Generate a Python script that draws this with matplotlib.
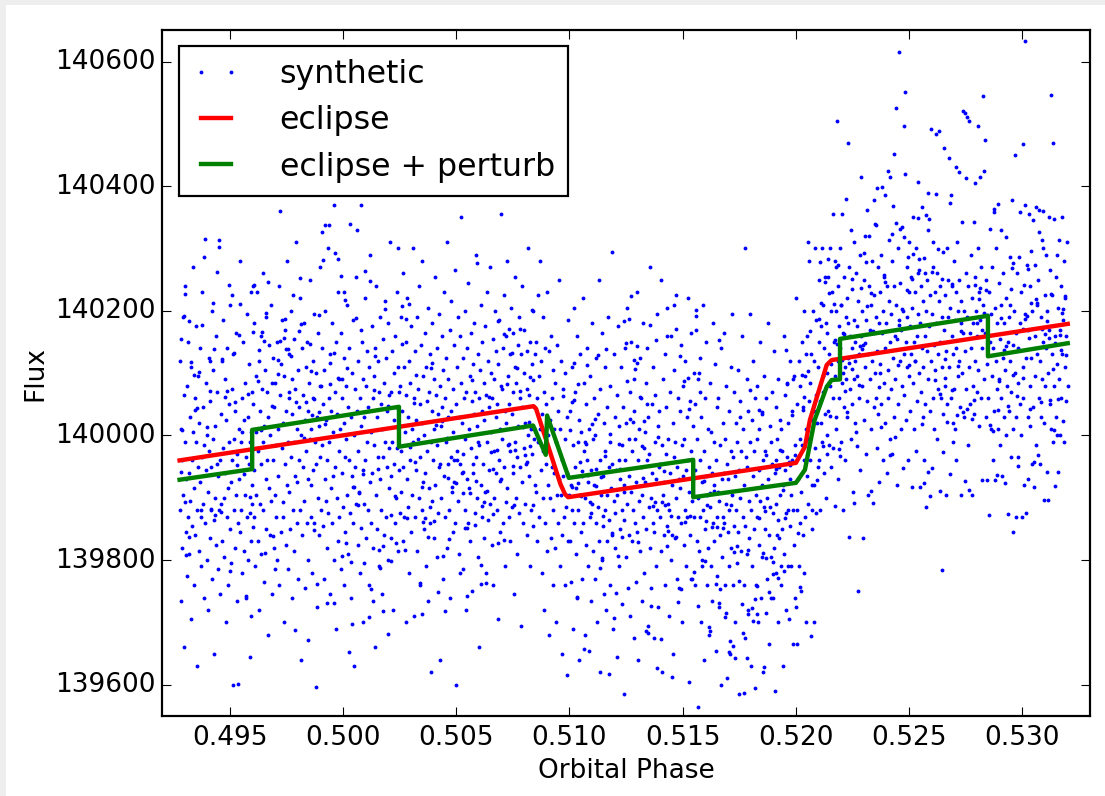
"""
Synthetic eclipse light curve with the eclipse model and the perturbed
eclipse model drawn over it. Saves out.png (1105 x 796 px).
"""

import numpy as np
import matplotlib
matplotlib.use("Agg")
import matplotlib.pyplot as plt
from matplotlib.patches import Rectangle

# ---------------------------------------------------------------------------
# Data
# phases are stored as phase x 1e5, fluxes as they are
# ---------------------------------------------------------------------------

# pre-ingress, 0.4928 - 0.4960
PHASE_1 = [
    49276, 49278, 49281, 49282, 49285, 49288, 49289, 49292, 49294, 49297,
    49299, 49300, 49303, 49306, 49307, 49310, 49312, 49315, 49316, 49319,
    49321, 49323, 49325, 49328, 49330, 49331, 49334, 49337, 49338, 49341,
    49343, 49345, 49348, 49349, 49352, 49354, 49357, 49359, 49360, 49363,
    49365, 49368, 49369, 49372, 49374, 49376, 49379, 49380, 49383, 49385,
    49388, 49390, 49391, 49394, 49396, 49399, 49401, 49402, 49405, 49407,
    49410, 49411, 49414, 49416, 49418, 49421, 49423, 49424, 49427, 49429,
    49432, 49433, 49436, 49438, 49440, 49443, 49445, 49446, 49449, 49451,
    49454, 49455, 49458, 49460, 49462, 49465, 49467, 49468, 49471, 49473,
    49476, 49477, 49480, 49482, 49484, 49487, 49489, 49490, 49493, 49495,
    49498, 49499, 49502, 49504, 49506, 49509, 49511, 49512, 49515, 49517,
    49520, 49521, 49524, 49526, 49528, 49531, 49533, 49534, 49537, 49539,
    49542, 49543, 49546, 49548, 49550, 49553, 49555, 49556, 49559, 49561,
    49564, 49565, 49568, 49570, 49572, 49575, 49577, 49578, 49581, 49583,
    49586, 49587, 49589, 49591, 49593, 49594, 49596, 49597, 49598, 49599,
]
FLUX_1 = [
    139880, 140120, 139735, 140010, 139960, 139820, 140190, 139905, 140065, 139660,
    139990, 140240, 139845, 139930, 140080, 139775, 139870, 140150, 139940, 139810,
    140030, 139895, 139705, 140110, 139960, 139855, 140270, 140005, 139760, 139915,
    140060, 139840, 139990, 140175, 139880, 139630, 139950, 140095, 139815, 140020,
    139925, 140140, 139870, 139790, 140230, 139965, 139890, 140045, 139740, 139985,
    140315, 139860, 139945, 140085, 139800, 140000, 139910, 139720, 140125, 139975,
    139835, 140055, 139950, 139880, 140200, 139770, 139995, 140105, 139865, 139650,
    140015, 139900, 140160, 139825, 139955, 140070, 139785, 139935, 140314, 139880,
    139960, 139745, 140035, 139890, 140120, 139830, 139980, 140185, 139900, 139805,
    140090, 139940, 139700, 140025, 139870, 140140, 139915, 139760, 140050, 139990,
    139850, 140210, 139925, 139795, 140075, 139960, 139600, 140130, 139880, 139995,
    139820, 140040, 139905, 140165, 139735, 139970, 139602, 139860, 140010, 139930,
    140280, 139845, 139990, 139880, 140060, 139780, 139945, 140150, 139815, 140025,
    139905, 140085, 139740, 139965, 140195, 139870, 140030, 139800, 139955, 140115,
    139875, 139990, 139644, 139830, 140005, 139710, 139920, 140070, 139890, 140240,
]

# pre-ingress, 0.4960 - 0.5025
PHASE_2 = [
    49601, 49603, 49606, 49607, 49610, 49612, 49615, 49616, 49619, 49621,
    49623, 49625, 49628, 49630, 49632, 49634, 49637, 49638, 49641, 49643,
    49645, 49647, 49650, 49651, 49654, 49656, 49658, 49660, 49663, 49664,
    49667, 49669, 49671, 49673, 49676, 49677, 49680, 49682, 49684, 49686,
    49689, 49690, 49693, 49695, 49697, 49699, 49702, 49703, 49706, 49708,
    49710, 49712, 49715, 49716, 49719, 49721, 49723, 49725, 49728, 49729,
    49732, 49734, 49736, 49738, 49741, 49742, 49745, 49747, 49749, 49751,
    49754, 49755, 49758, 49760, 49762, 49764, 49767, 49768, 49771, 49773,
    49775, 49777, 49780, 49781, 49784, 49786, 49788, 49790, 49793, 49794,
    49797, 49799, 49801, 49803, 49806, 49807, 49810, 49812, 49814, 49816,
    49819, 49820, 49823, 49825, 49827, 49829, 49832, 49833, 49836, 49838,
    49840, 49842, 49845, 49846, 49849, 49851, 49853, 49855, 49858, 49859,
    49862, 49864, 49866, 49868, 49871, 49872, 49875, 49877, 49879, 49881,
    49884, 49885, 49888, 49890, 49892, 49894, 49897, 49898, 49901, 49903,
    49905, 49907, 49910, 49911, 49914, 49916, 49918, 49920, 49923, 49924,
    49927, 49929, 49931, 49933, 49936, 49937, 49940, 49942, 49944, 49946,
    49949, 49950, 49953, 49955, 49957, 49959, 49962, 49963, 49966, 49968,
    49970, 49972, 49975, 49976, 49979, 49981, 49983, 49985, 49988, 49989,
    49992, 49994, 49996, 49998, 50001, 50002, 50005, 50007, 50009, 50011,
    50014, 50015, 50018, 50020, 50022, 50024, 50027, 50028, 50031, 50033,
    50035, 50037, 50040, 50041, 50044, 50046, 50048, 50050, 50053, 50054,
    50057, 50059, 50061, 50063, 50066, 50067, 50070, 50072, 50074, 50076,
    50079, 50080, 50083, 50085, 50087, 50089, 50092, 50093, 50096, 50098,
    50100, 50102, 50105, 50106, 50109, 50111, 50113, 50115, 50118, 50119,
    50122, 50124, 50126, 50128, 50131, 50132, 50135, 50137, 50139, 50141,
    50144, 50145, 50148, 50150, 50152, 50154, 50157, 50158, 50161, 50163,
    50165, 50167, 50170, 50171, 50174, 50176, 50178, 50180, 50183, 50184,
    50187, 50189, 50191, 50193, 50196, 50197, 50200, 50202, 50204, 50206,
    50209, 50210, 50213, 50215, 50217, 50219, 50222, 50223, 50226, 50228,
    50230, 50232, 50235, 50236, 50239, 50241, 50243, 50245, 50247, 50249,
]
FLUX_2 = [
    140050, 139870, 140180, 139945, 139790, 140095, 140005, 139905, 140230, 139830,
    139975, 140120, 139720, 140040, 139890, 140160, 139955, 139810, 140075, 139990,
    140260, 139880, 140015, 139765, 140105, 139930, 140190, 139850, 139960, 140070,
    139680, 140030, 139915, 140145, 139840, 140000, 140210, 139895, 139745, 140085,
    139960, 140125, 139820, 140045, 139905, 140085, 139985, 139870, 140150, 139800,
    140010, 139935, 140240, 139760, 140065, 140360, 140115, 139845, 139980, 140185,
    139870, 140020, 139700, 140095, 139955, 140170, 139825, 140040, 139920, 140280,
    139990, 139785, 140130, 139910, 140060, 139850, 140200, 139965, 139740, 140090,
    140035, 139880, 140155, 139990, 139815, 140075, 139935, 140310, 139860, 140010,
    139925, 140105, 139770, 140045, 139960, 140220, 139880, 140000, 139640, 140140,
    139840, 140065, 139950, 140180, 139895, 140025, 139755, 140110, 139975, 139860,
    140150, 139930, 140040, 139800, 140085, 139995, 140250, 139870, 140010, 139920,
    139780, 140120, 139945, 140060, 139860, 140195, 139990, 139597, 140100, 139955,
    140030, 139725, 140165, 139900, 140015, 139840, 140270, 139965, 140080, 139880,
    139985, 140140, 139855, 140050, 139770, 140105, 139930, 140200, 139895, 140025,
    139820, 139960, 140300, 139875, 140060, 139990, 139745, 140130, 139915, 140040,
    140180, 139860, 140005, 139935, 140370, 139800, 140070, 139950, 139690, 140150,
    139900, 140035, 139830, 140230, 139975, 140090, 139870, 140010, 140165, 139785,
    140060, 139940, 140090, 139885, 140020, 139760, 140125, 139965, 139845, 140080,
    139995, 140210, 139905, 140045, 139810, 140140, 139960, 140340, 139875, 140030,
    139740, 140100, 139935, 140185, 139860, 140000, 139630, 140075, 139950, 140255,
    139890, 140040, 140330, 139825, 140120, 139975, 139910, 140060, 139780, 140170,
    140015, 140370, 140150, 139945, 140090, 139700, 140030, 139890, 140220, 139960,
    139835, 140080, 139990, 140135, 139880, 140045, 139760, 140110, 139925, 140290,
    140005, 139860, 140175, 139940, 140060, 139820, 140095, 139985, 139660, 140140,
    139905, 140240, 139850, 140030, 139965, 140120, 139790, 140070, 139930, 140190,
    140050, 139880, 140010, 139745, 140155, 139965, 140085, 139840, 140215, 139990,
    139870, 140125, 139950, 140040, 139800, 140180, 139915, 140065, 139980, 140310,
    139935, 140070, 139835, 140135, 139990, 139720, 140100, 139955, 140025, 139860,
    140160, 139900, 140045, 139980, 140230, 139815, 140110, 139945, 140070, 139875,
]

# pre-ingress, 0.5025 - 0.5085
PHASE_3 = [
    50251, 50253, 50256, 50257, 50260, 50262, 50264, 50266, 50269, 50270,
    50273, 50275, 50277, 50279, 50281, 50283, 50286, 50287, 50290, 50292,
    50294, 50296, 50299, 50300, 50303, 50305, 50307, 50309, 50311, 50313,
    50316, 50317, 50320, 50322, 50324, 50326, 50329, 50330, 50333, 50335,
    50337, 50339, 50341, 50343, 50346, 50347, 50350, 50352, 50354, 50356,
    50358, 50360, 50363, 50364, 50367, 50369, 50371, 50373, 50376, 50377,
    50380, 50382, 50384, 50386, 50388, 50390, 50393, 50394, 50397, 50399,
    50401, 50403, 50406, 50407, 50410, 50412, 50414, 50416, 50418, 50420,
    50423, 50424, 50427, 50429, 50431, 50433, 50436, 50437, 50440, 50442,
    50444, 50446, 50448, 50450, 50453, 50454, 50457, 50459, 50461, 50463,
    50465, 50467, 50470, 50471, 50474, 50476, 50478, 50480, 50483, 50484,
    50487, 50489, 50491, 50493, 50495, 50497, 50500, 50501, 50504, 50506,
    50508, 50510, 50513, 50514, 50517, 50519, 50521, 50523, 50525, 50527,
    50530, 50531, 50534, 50536, 50538, 50540, 50543, 50544, 50547, 50549,
    50551, 50553, 50555, 50557, 50560, 50561, 50564, 50566, 50568, 50570,
    50572, 50574, 50577, 50578, 50581, 50583, 50585, 50587, 50590, 50591,
    50594, 50596, 50598, 50600, 50602, 50604, 50607, 50608, 50611, 50613,
    50615, 50617, 50620, 50621, 50624, 50626, 50628, 50630, 50632, 50634,
    50637, 50638, 50641, 50643, 50645, 50647, 50650, 50651, 50654, 50656,
    50658, 50660, 50662, 50664, 50667, 50668, 50671, 50673, 50675, 50677,
    50679, 50681, 50684, 50685, 50688, 50690, 50692, 50694, 50697, 50698,
    50701, 50703, 50705, 50707, 50709, 50711, 50714, 50715, 50718, 50720,
    50722, 50724, 50727, 50728, 50731, 50733, 50735, 50737, 50739, 50741,
    50744, 50745, 50748, 50750, 50752, 50754, 50757, 50758, 50761, 50763,
    50765, 50767, 50769, 50771, 50774, 50775, 50778, 50780, 50782, 50784,
    50786, 50788, 50791, 50792, 50795, 50797, 50799, 50801, 50804, 50805,
    50808, 50810, 50812, 50814, 50816, 50818, 50821, 50822, 50825, 50827,
    50829, 50831, 50834, 50835, 50838, 50840, 50842, 50844, 50846, 50848,
]
FLUX_3 = [
    140080, 139910, 140190, 139975, 140040, 139830, 140260, 139950, 140110, 139870,
    140005, 140150, 139700, 140065, 139930, 140220, 139885, 140030, 139780, 140120,
    139960, 140085, 139845, 140175, 140010, 139905, 140300, 139990, 139710, 140060,
    140135, 139870, 140025, 139945, 140190, 139815, 140075, 139995, 140240, 139900,
    139760, 140050, 139965, 140145, 139880, 140020, 140280, 139925, 140095, 139850,
    140000, 140165, 139940, 139790, 140110, 139975, 140055, 139735, 140205, 139915,
    140070, 139860, 140130, 139990, 139620, 140040, 139895, 140180, 139960, 140090,
    139835, 140010, 140255, 139920, 140065, 139805, 140140, 139985, 140035, 139875,
    140195, 139950, 140080, 139640, 140015, 139900, 140160, 140045, 139770, 140105,
    139935, 140230, 139870, 140060, 139990, 140125, 139820, 140310, 139955, 140030,
    140090, 139880, 140170, 139740, 140040, 139965, 140215, 139910, 140075, 139845,
    140005, 140145, 139925, 140265, 139860, 140050, 139600, 140110, 139975, 140190,
    139895, 140030, 139810, 140160, 139955, 140085, 140350, 139940, 140020, 139785,
    140125, 139970, 140060, 139880, 140200, 139995, 139720, 140070, 139930, 140140,
    139860, 140245, 140010, 139915, 140095, 139830, 140165, 139980, 140055, 139750,
    140115, 139940, 140035, 140180, 139875, 140070, 139965, 140290, 139900, 140015,
    139805, 140130, 139985, 140060, 139660, 140105, 139920, 140210, 140040, 139870,
    140150, 139955, 140085, 139835, 140025, 140175, 139910, 140065, 139780, 140230,
    139990, 140120, 139865, 140045, 139945, 140270, 139890, 140100, 140005, 139825,
    140060, 139760, 140155, 139975, 140090, 139900, 140200, 140030, 139940, 140135,
    139880, 140050, 139705, 140115, 139960, 140185, 139845, 140010, 140355, 139930,
    140075, 139995, 140140, 139860, 140225, 139950, 140040, 139790, 140160, 140020,
    139915, 140280, 139985, 140095, 139870, 140050, 139975, 140130, 139830, 140205,
    140035, 139885, 140165, 139940, 140070, 139745, 140110, 139990, 140255, 139900,
    140085, 139965, 139810, 140145, 140015, 139875, 140190, 139950, 140060, 139695,
    140130, 139925, 140045, 140240, 139860, 140100, 139980, 140170, 139890, 140020,
    139955, 140075, 139840, 140135, 140000, 140300, 139935, 140065, 139790, 140150,
    140010, 139880, 140115, 139970, 140200, 139855, 140045, 139995, 140130, 139920,
]

# ingress, 0.5085 - 0.5100
PHASE_4 = [
    50851, 50853, 50855, 50857, 50860, 50862, 50864, 50866, 50868, 50870,
    50872, 50874, 50877, 50879, 50881, 50883, 50885, 50887, 50889, 50891,
    50893, 50896, 50898, 50900, 50902, 50904, 50906, 50908, 50910, 50912,
    50915, 50917, 50919, 50921, 50923, 50925, 50927, 50929, 50931, 50933,
    50936, 50938, 50940, 50942, 50944, 50946, 50948, 50950, 50952, 50954,
    50957, 50959, 50961, 50963, 50965, 50967, 50969, 50971, 50973, 50975,
    50978, 50980, 50982, 50984, 50987, 50989, 50991, 50993, 50995, 50998,
]
FLUX_4 = [
    140150, 139910, 140060, 139830, 140225, 139990, 140095, 139870, 140010, 140280,
    139945, 140120, 139780, 140035, 139900, 140190, 139975, 140070, 139720, 140140,
    139860, 140050, 139955, 140230, 139815, 140000, 139920, 140135, 139680, 140025,
    139900, 140160, 139835, 140060, 139950, 139760, 140105, 139880, 140010, 139940,
    140085, 139820, 139990, 139700, 140145, 139905, 140040, 139860, 140250, 139930,
    139790, 140010, 139905, 140120, 139650, 139960, 139840, 140075, 139935, 139870,
    139995, 139760, 140100, 139885, 139940, 139615, 140030, 139830, 140185, 139905,
]

# in eclipse, 0.5100 - 0.5155
PHASE_5 = [
    51001, 51003, 51005, 51008, 51010, 51012, 51014, 51016, 51019, 51021,
    51023, 51025, 51027, 51030, 51032, 51034, 51036, 51038, 51041, 51043,
    51045, 51047, 51049, 51052, 51054, 51056, 51058, 51060, 51063, 51065,
    51067, 51069, 51071, 51074, 51076, 51078, 51080, 51082, 51085, 51087,
    51089, 51091, 51093, 51096, 51098, 51100, 51102, 51104, 51107, 51109,
    51111, 51113, 51115, 51118, 51120, 51122, 51124, 51126, 51129, 51131,
    51133, 51135, 51137, 51140, 51142, 51144, 51146, 51148, 51151, 51153,
    51155, 51157, 51159, 51162, 51164, 51166, 51168, 51170, 51173, 51175,
    51177, 51179, 51181, 51184, 51186, 51188, 51190, 51192, 51195, 51197,
    51199, 51201, 51203, 51206, 51208, 51210, 51212, 51214, 51217, 51219,
    51221, 51223, 51225, 51228, 51230, 51232, 51234, 51236, 51239, 51241,
    51243, 51245, 51247, 51250, 51252, 51254, 51256, 51258, 51261, 51263,
    51265, 51267, 51269, 51272, 51274, 51276, 51278, 51280, 51283, 51285,
    51287, 51289, 51291, 51294, 51296, 51298, 51300, 51302, 51305, 51307,
    51309, 51311, 51313, 51316, 51318, 51320, 51322, 51324, 51327, 51329,
    51331, 51333, 51335, 51338, 51340, 51342, 51344, 51346, 51349, 51351,
    51353, 51355, 51357, 51360, 51362, 51364, 51366, 51368, 51371, 51373,
    51375, 51377, 51379, 51382, 51384, 51386, 51388, 51390, 51393, 51395,
    51397, 51399, 51401, 51404, 51406, 51408, 51410, 51412, 51415, 51417,
    51419, 51421, 51423, 51426, 51428, 51430, 51432, 51434, 51437, 51439,
    51441, 51443, 51445, 51448, 51450, 51452, 51454, 51456, 51459, 51461,
    51463, 51465, 51467, 51470, 51472, 51474, 51476, 51478, 51481, 51483,
    51485, 51487, 51489, 51492, 51494, 51496, 51498, 51500, 51503, 51505,
    51507, 51509, 51511, 51514, 51516, 51518, 51520, 51522, 51525, 51527,
    51529, 51531, 51533, 51536, 51538, 51540, 51542, 51544, 51547, 51549,
]
FLUX_5 = [
    139830, 140040, 139920, 139765, 140110, 139880, 139985, 139690, 140205, 139860,
    139950, 140070, 139810, 139915, 140160, 139740, 139990, 139880, 140025, 139640,
    139905, 140130, 139845, 140005, 139770, 139935, 140220, 139860, 139975, 140085,
    139680, 139900, 140050, 139825, 139960, 140140, 139790, 139925, 139655, 140010,
    139870, 140095, 139945, 139735, 140180, 139890, 139995, 139815, 140060, 139920,
    139770, 140000, 139860, 140125, 139940, 139700, 140035, 139885, 140250, 139830,
    139960, 139620, 140075, 139905, 139800, 140165, 139935, 139855, 140020, 139745,
    140110, 139880, 139975, 139720, 140045, 139905, 139830, 140190, 139950, 139865,
    139990, 139760, 140080, 139915, 140295, 139840, 139955, 139690, 140130, 139895,
    139820, 140030, 139875, 139945, 139645, 140065, 139905, 140175, 139790, 139960,
    140015, 139850, 139930, 140110, 139730, 139985, 139880, 140045, 139585, 139920,
    139865, 140140, 139960, 139805, 140020, 139890, 140205, 139755, 139995, 139840,
    139935, 140070, 139710, 139910, 140150, 139830, 139975, 139880, 140040, 139675,
    140090, 139860, 139995, 139765, 139925, 140230, 139845, 139960, 139640, 140010,
    139895, 140125, 139815, 139950, 140060, 139735, 139905, 140180, 139870, 139980,
    139780, 140005, 139925, 140085, 139850, 139960, 140140, 139695, 140030, 139885,
    139970, 139820, 140270, 139900, 139755, 140050, 139940, 139860, 140110, 139675,
    139845, 139990, 140065, 139790, 139930, 140195, 139880, 140015, 139725, 139950,
    140040, 139870, 139955, 140250, 139815, 139985, 139620, 140090, 139905, 139840,
    139925, 140130, 139760, 139970, 140045, 139855, 140205, 139890, 139995, 139710,
    139880, 140070, 139940, 139800, 140160, 139920, 139840, 140020, 139650, 139965,
    140105, 139835, 139990, 139900, 140225, 139770, 139950, 140060, 139870, 139930,
    139755, 140040, 139915, 140145, 139860, 139985, 139700, 140080, 139935, 139825,
    139995, 139880, 140120, 139945, 139790, 140030, 139870, 140220, 139960, 139605,
    139910, 140055, 139840, 139975, 140165, 139895, 139770, 140015, 139930, 140100,
]

# in eclipse, 0.5155 - 0.5200
PHASE_6 = [
    51551, 51553, 51556, 51557, 51560, 51562, 51564, 51566, 51569, 51570,
    51573, 51575, 51577, 51579, 51581, 51583, 51586, 51587, 51590, 51592,
    51594, 51596, 51599, 51600, 51603, 51605, 51607, 51609, 51611, 51613,
    51616, 51617, 51620, 51622, 51624, 51626, 51629, 51630, 51633, 51635,
    51637, 51639, 51641, 51643, 51646, 51647, 51650, 51652, 51654, 51656,
    51658, 51660, 51663, 51664, 51667, 51669, 51671, 51673, 51676, 51677,
    51680, 51682, 51684, 51686, 51688, 51690, 51693, 51694, 51697, 51699,
    51701, 51703, 51706, 51707, 51710, 51712, 51714, 51716, 51718, 51720,
    51723, 51724, 51727, 51729, 51731, 51733, 51736, 51737, 51740, 51742,
    51744, 51746, 51748, 51750, 51753, 51754, 51757, 51759, 51761, 51763,
    51765, 51767, 51770, 51771, 51774, 51776, 51778, 51780, 51783, 51784,
    51787, 51789, 51791, 51793, 51795, 51797, 51800, 51801, 51804, 51806,
    51808, 51810, 51813, 51814, 51817, 51819, 51821, 51823, 51825, 51827,
    51830, 51831, 51834, 51836, 51838, 51840, 51843, 51844, 51847, 51849,
    51851, 51853, 51855, 51857, 51860, 51861, 51864, 51866, 51868, 51870,
    51872, 51874, 51877, 51878, 51881, 51883, 51885, 51887, 51890, 51891,
    51894, 51896, 51898, 51900, 51902, 51904, 51907, 51908, 51911, 51913,
    51915, 51917, 51920, 51921, 51924, 51926, 51928, 51930, 51932, 51934,
    51937, 51938, 51941, 51943, 51945, 51947, 51950, 51951, 51954, 51956,
    51958, 51960, 51962, 51964, 51967, 51968, 51971, 51973, 51975, 51977,
    51979, 51981, 51984, 51985, 51988, 51990, 51992, 51994, 51997, 51998,
]
FLUX_6 = [
    139870, 140050, 139760, 139945, 140170, 139830, 139995, 139565, 140090, 139900,
    139815, 139960, 140125, 139870, 139700, 140030, 139925, 139790, 140210, 139880,
    139975, 139640, 140060, 139850, 139935, 140150, 139760, 139905, 140010, 139820,
    139680, 139950, 140085, 139885, 139790, 140005, 139940, 139735, 140180, 139860,
    139990, 139830, 139920, 140115, 139655, 139960, 139870, 140045, 139775, 139910,
    140060, 139725, 139895, 139985, 139840, 140140, 139600, 139930, 139805, 140020,
    139870, 140165, 139940, 139760, 139995, 139890, 140080, 139715, 139955, 139845,
    139930, 139790, 140040, 139880, 139650, 139975, 140110, 139820, 139905, 140195,
    139760, 139965, 139855, 140070, 139935, 139700, 140020, 139880, 139795, 139990,
    140105, 139845, 139945, 139585, 139900, 140055, 139815, 139975, 139730, 140160,
    139870, 140010, 139760, 139920, 140300, 139855, 139675, 139965, 140090, 139810,
    139950, 139720, 140040, 139895, 139835, 140195, 139990, 139630, 139880, 140025,
    139790, 139935, 140120, 139850, 139975, 139595, 140060, 139905, 139760, 139995,
    139870, 140080, 139700, 139945, 139825, 140010, 139895, 140150, 139740, 139920,
    140035, 139805, 139960, 139620, 139885, 140095, 139850, 139975, 139715, 140060,
    139900, 139770, 140180, 139930, 139840, 139665, 140015, 139885, 139990, 139805,
    139955, 140070, 139740, 139875, 140135, 139820, 139940, 139590, 140045, 139890,
    139780, 139995, 139865, 140090, 139700, 139950, 139835, 140025, 139905, 139760,
    140010, 139850, 139975, 139630, 139920, 140160, 139810, 139945, 140065, 139875,
    139720, 139965, 140085, 139880, 139790, 140020, 139705, 139930, 139855, 140120,
    139905, 139790, 140040, 139960, 139665, 139880, 140095, 139825, 139985, 139740,
]

# egress, 0.5200 - 0.5216
PHASE_7 = [
    52001, 52002, 52005, 52007, 52008, 52011, 52013, 52014, 52017, 52019,
    52020, 52023, 52025, 52026, 52029, 52031, 52032, 52035, 52037, 52038,
    52041, 52043, 52044, 52047, 52049, 52050, 52053, 52055, 52056, 52059,
    52061, 52062, 52065, 52067, 52068, 52071, 52073, 52074, 52077, 52079,
    52080, 52083, 52085, 52086, 52089, 52091, 52092, 52095, 52097, 52098,
    52101, 52103, 52104, 52107, 52109, 52110, 52113, 52115, 52116, 52119,
    52121, 52122, 52125, 52127, 52128, 52131, 52133, 52134, 52137, 52139,
    52140, 52143, 52145, 52146, 52149, 52151, 52152, 52155, 52157, 52158,
]
FLUX_7 = [
    139725, 140220, 139880, 139665, 140050, 139930, 140120, 139790, 139995, 139860,
    140080, 139910, 139750, 140150, 139985, 139840, 140045, 139780, 140200, 139960,
    139870, 140095, 140010, 139700, 140160, 139935, 139995, 140310, 139890, 140055,
    140280, 139960, 140085, 139679, 140130, 139920, 140025, 139850, 140200, 140040,
    139700, 140120, 140300, 139980, 140065, 139875, 140185, 140020, 139950, 140110,
    140150, 139960, 140250, 140055, 139880, 140175, 140020, 140300, 139990, 140095,
    140070, 140210, 139940, 140140, 140255, 140035, 139900, 140180, 140100, 140000,
    140165, 140040, 140255, 139985, 140130, 140300, 140080, 139950, 140200, 140115,
]

# post-egress, 0.5216 - 0.5285
PHASE_8 = [
    52161, 52163, 52165, 52167, 52170, 52172, 52174, 52176, 52178, 52180,
    52182, 52185, 52187, 52189, 52191, 52193, 52195, 52198, 52200, 52202,
    52204, 52206, 52208, 52210, 52213, 52215, 52217, 52219, 52221, 52223,
    52225, 52228, 52230, 52232, 52234, 52236, 52238, 52241, 52243, 52245,
    52247, 52249, 52251, 52253, 52256, 52258, 52260, 52262, 52264, 52266,
    52268, 52271, 52273, 52275, 52277, 52279, 52281, 52284, 52286, 52288,
    52290, 52292, 52294, 52296, 52299, 52301, 52303, 52305, 52307, 52309,
    52311, 52314, 52316, 52318, 52320, 52322, 52324, 52327, 52329, 52331,
    52333, 52335, 52337, 52339, 52342, 52344, 52346, 52348, 52350, 52352,
    52354, 52357, 52359, 52361, 52363, 52365, 52367, 52370, 52372, 52374,
    52376, 52378, 52380, 52382, 52385, 52387, 52389, 52391, 52393, 52395,
    52397, 52400, 52402, 52404, 52406, 52408, 52410, 52413, 52415, 52417,
    52419, 52421, 52423, 52425, 52428, 52430, 52432, 52434, 52436, 52438,
    52440, 52443, 52445, 52447, 52449, 52451, 52453, 52456, 52458, 52460,
    52462, 52464, 52466, 52468, 52471, 52473, 52475, 52477, 52479, 52481,
    52483, 52486, 52488, 52490, 52492, 52494, 52496, 52499, 52501, 52503,
    52505, 52507, 52509, 52511, 52514, 52516, 52518, 52520, 52522, 52524,
    52526, 52529, 52531, 52533, 52535, 52537, 52539, 52542, 52544, 52546,
    52548, 52550, 52552, 52554, 52557, 52559, 52561, 52563, 52565, 52567,
    52569, 52572, 52574, 52576, 52578, 52580, 52582, 52585, 52587, 52589,
    52591, 52593, 52595, 52597, 52600, 52602, 52604, 52606, 52608, 52610,
    52612, 52615, 52617, 52619, 52621, 52623, 52625, 52628, 52630, 52632,
    52634, 52636, 52638, 52640, 52643, 52645, 52647, 52649, 52651, 52653,
    52655, 52658, 52660, 52662, 52664, 52666, 52668, 52671, 52673, 52675,
    52677, 52679, 52681, 52683, 52686, 52688, 52690, 52692, 52694, 52696,
    52698, 52701, 52703, 52705, 52707, 52709, 52711, 52714, 52716, 52718,
    52720, 52722, 52724, 52726, 52729, 52731, 52733, 52735, 52737, 52739,
    52741, 52744, 52746, 52748, 52750, 52752, 52754, 52757, 52759, 52761,
    52763, 52765, 52767, 52769, 52772, 52774, 52776, 52778, 52780, 52782,
    52784, 52787, 52789, 52791, 52793, 52795, 52797, 52800, 52802, 52804,
    52806, 52808, 52810, 52812, 52815, 52817, 52819, 52821, 52823, 52825,
    52827, 52830, 52832, 52834, 52836, 52838, 52840, 52843, 52845, 52848,
]
FLUX_8 = [
    140230, 140060, 140355, 139980, 140150, 140280, 140095, 139887, 140200, 140010,
    140505, 140120, 140240, 139930, 140175, 140060, 140300, 140140, 139990, 140210,
    140085, 140356, 139881, 140165, 140045, 140255, 140110, 139960, 140379, 140190,
    140030, 140220, 140469, 140125, 139837, 140270, 140075, 140160, 139995, 140330,
    140140, 140050, 140235, 139910, 140185, 140090, 140310, 140020, 140150, 140260,
    140005, 140175, 140095, 139750, 140215, 140130, 140060, 140290, 139945, 140160,
    140414, 140080, 140200, 139835, 140145, 140025, 140250, 140110, 140320, 139970,
    140185, 140055, 140362, 140130, 139905, 140240, 140320, 140090, 140170, 140010,
    139911, 140210, 140120, 140280, 139891, 140165, 140045, 140225, 140100, 140340,
    140060, 140190, 139980, 140135, 140270, 140035, 140180, 139925, 140230, 140115,
    140290, 140050, 140165, 140398, 139960, 140200, 140085, 140255, 140140, 140020,
    140386, 140180, 139940, 140240, 140425, 140105, 140060, 140215, 139995, 140150,
    140414, 140075, 140195, 140280, 139970, 140368, 140125, 140030, 140240, 140160,
    140090, 140525, 140210, 139920, 140155, 140300, 140050, 140185, 140616, 140120,
    140245, 140010, 140170, 140080, 140335, 139948, 140200, 140130, 140497, 140065,
    140551, 140150, 140025, 140270, 140110, 140190, 139960, 140230, 140095, 140310,
    140175, 140040, 140255, 140130, 139918, 140205, 140085, 140350, 140150, 140010,
    140230, 140120, 140300, 139975, 140160, 140055, 140407, 140195, 140100, 140265,
    139918, 140180, 140070, 140240, 140140, 140367, 140030, 140215, 140110, 139960,
    140285, 140160, 140050, 140200, 139885, 140135, 140250, 140090, 140330, 140175,
    140348, 140040, 140225, 140491, 140120, 139948, 140195, 140060, 140270, 140145,
    140010, 140230, 140105, 140180, 140483, 139995, 140260, 140130, 140075, 140215,
    140488, 140150, 139911, 140240, 140060, 140190, 139784, 140110, 140295, 140035,
    140170, 140462, 140080, 140225, 139904, 140135, 140300, 140050, 140190, 140250,
    140445, 140110, 139939, 140205, 140386, 140060, 140160, 140240, 140020, 140130,
    140280, 140075, 140185, 140010, 140230, 140140, 139960, 140310, 140095, 140200,
    140120, 140423, 140250, 140045, 140180, 139905, 140215, 140100, 140342, 140165,
    140521, 140030, 140200, 140518, 140135, 140260, 140075, 140190, 140511, 139985,
    140240, 140110, 140505, 140165, 140050, 140290, 140140, 140220, 139904, 140080,
    140180, 140342, 140035, 140255, 140120, 140405, 140200, 140070, 140160, 140300,
    140497, 140105, 140230, 140015, 140414, 140185, 140060, 140270, 139928, 140140,
    140544, 140210, 140090, 140424, 140165, 140474, 140030, 140250, 139928, 140115,
]

# post-egress, 0.5285 - 0.5320
PHASE_9 = [
    52851, 52853, 52855, 52858, 52860, 52862, 52864, 52866, 52869, 52871,
    52873, 52875, 52877, 52880, 52882, 52884, 52886, 52888, 52891, 52893,
    52895, 52897, 52899, 52902, 52904, 52906, 52908, 52910, 52913, 52915,
    52917, 52919, 52921, 52924, 52926, 52928, 52930, 52932, 52935, 52937,
    52939, 52941, 52943, 52946, 52948, 52950, 52952, 52954, 52957, 52959,
    52961, 52963, 52965, 52968, 52970, 52972, 52974, 52976, 52979, 52981,
    52983, 52985, 52987, 52990, 52992, 52994, 52996, 52998, 53001, 53003,
    53005, 53007, 53009, 53012, 53014, 53016, 53018, 53020, 53023, 53025,
    53027, 53029, 53031, 53034, 53036, 53038, 53040, 53042, 53045, 53047,
    53049, 53051, 53053, 53056, 53058, 53060, 53062, 53064, 53067, 53069,
    53071, 53073, 53075, 53078, 53080, 53082, 53084, 53086, 53089, 53091,
    53093, 53095, 53097, 53100, 53102, 53104, 53106, 53108, 53111, 53113,
    53115, 53117, 53119, 53122, 53124, 53126, 53128, 53130, 53133, 53135,
    53137, 53139, 53141, 53144, 53146, 53148, 53150, 53152, 53155, 53157,
    53159, 53161, 53163, 53166, 53168, 53170, 53172, 53174, 53177, 53179,
    53181, 53183, 53185, 53188, 53190, 53192, 53194, 53196, 53199, 53203,
]
FLUX_9 = [
    140060, 140230, 139873, 140150, 140332, 140010, 140195, 140095, 140270, 139960,
    140140, 140363, 140040, 140205, 139928, 140120, 140300, 140075, 140180, 140010,
    140372, 140090, 140245, 139985, 140155, 140330, 140060, 140210, 139935, 140125,
    140260, 140030, 140180, 139923, 140105, 140318, 140000, 140220, 140080, 140150,
    139874, 140190, 140040, 140286, 140120, 139965, 140235, 140070, 140377, 140145,
    140010, 139845, 140200, 140100, 140450, 140030, 140165, 139870, 140260, 140085,
    140140, 139965, 140287, 140050, 140180, 140358, 140000, 140230, 139870, 140110,
    140467, 140060, 139921, 140195, 140370, 140633, 139876, 140125, 140273, 140030,
    140170, 139930, 140355, 140080, 140240, 140015, 140296, 140125, 139955, 140200,
    140346, 140045, 139918, 140160, 140273, 140095, 140366, 139984, 140210, 140130,
    139969, 140250, 140060, 140362, 140120, 139955, 140190, 140030, 140313, 140090,
    140150, 140360, 140020, 139897, 140225, 140080, 140290, 140140, 139941, 140200,
    140100, 139897, 140170, 140350, 140050, 140265, 140010, 140547, 140130, 140225,
    140469, 139990, 140080, 140347, 139919, 140160, 140030, 140255, 140115, 140000,
    140205, 139941, 140313, 140090, 140170, 140001, 140240, 140060, 140350, 140130,
    140024, 140185, 140280, 139990, 140110, 140220, 140055, 140160, 140310, 140080,
]

# more points, not in phase order, before the eclipse
PHASE_10 = [
    49433, 50712, 49871, 50164, 49298, 50527, 49654, 50389, 49962, 50803,
    49517, 50048, 50631, 49345, 49788, 50276, 50845, 49601, 50119, 49927,
    50457, 49283, 49735, 50593, 50011, 49409, 50744, 49846, 50323, 49562,
    50186, 49691, 50679, 49327, 50418, 49904, 50559, 49476, 50092, 50781,
    49622, 50347, 49988, 50503, 49371, 50827, 49755, 50233, 49541, 50661,
    50023, 49813, 50437, 49299, 50608, 49667, 50152, 49941, 50755, 49452,
    50297, 49579, 50686, 49893, 50068, 49397, 50549, 49721, 50362, 50819,
    49496, 50211, 49857, 50479, 49316, 50643, 49976, 50133, 49638, 50731,
    50401, 49768, 50572, 49423, 50037, 50839, 49589, 50258, 49919, 50517,
    49353, 50691, 49802, 50176, 49712, 50449, 49287, 50613, 50003, 49531,
    50768, 49883, 50311, 49659, 50539, 49441, 50089, 49994, 50722, 49377,
    50227, 49607, 50469, 49761, 50655, 49305, 50141, 49937, 50383, 50796,
    49569, 50057, 49828, 50581, 49463, 50347, 50832, 49697, 50197, 49911,
    50426, 49339, 50709, 49853, 50113, 49521, 50637, 49779, 50281, 49958,
    50571, 49413, 50009, 50749, 49641, 50337, 49893, 50499, 49295, 50158,
    49737, 50623, 49487, 50243, 50811, 49959, 50391, 49551, 50077, 50697,
    49869, 50289, 49363, 50527, 49807, 50033, 50761, 49427, 50199, 49683,
    50411, 49599, 50837, 49943, 50123, 49509, 50663, 49743, 50351, 50017,
    49319, 50587, 49897, 50271, 49627, 50731, 49457, 50097, 50461, 49789,
    50043, 50783, 49539, 50213, 49919, 50609, 49383, 50319, 49713, 50549,
    49977, 50439, 49281, 50683, 49833, 50177, 49593, 50827, 50063, 49411,
    50373, 49747, 50597, 49499, 50259, 49863, 50719, 49651, 50491, 50137,
]
FLUX_10 = [
    139873, 140163, 140058, 139787, 140227, 139941, 139812, 140109, 140292, 139968,
    140133, 139917, 139764, 140041, 139688, 140187, 140012, 139853, 140248, 139731,
    139996, 140154, 139893, 140276, 139827, 140071, 140133, 139672, 140097, 139938,
    140203, 139839, 139977, 140118, 139749, 140327, 139908, 140062, 139796, 140171,
    140087, 139713, 140256, 139961, 139881, 140094, 140138, 139827, 140211, 139874,
    139652, 140179, 140023, 139893, 139762, 140246, 139947, 140117, 139889, 140303,
    139981, 140067, 139828, 140193, 139907, 140013, 139743, 140152, 139867, 140021,
    140241, 139799, 140104, 139918, 139837, 140062, 140283, 139735, 140009, 140171,
    139863, 140127, 139954, 140213, 139697, 140089, 139902, 140147, 140337, 139779,
    140044, 139927, 140168, 139822, 140099, 139718, 140009, 139887, 140231, 139952,
    140108, 139762, 140052, 140197, 139851, 140263, 139938, 139807, 140083, 140177,
    139903, 140242, 139834, 140069, 139973, 139809, 140127, 140337, 139886, 140013,
    139743, 140188, 139996, 139857, 140123, 139918, 140202, 139786, 140047, 140281,
    139954, 140097, 139833, 140147, 139708, 140053, 139911, 140226, 139868, 140133,
    140089, 139882, 140217, 139951, 140166, 139763, 140038, 139923, 140191, 139817,
    140157, 139893, 140072, 140301, 139958, 139731, 140117, 140006, 139851, 140079,
    139849, 140211, 140102, 139907, 140252, 139797, 139977, 140139, 139681, 140048,
    140017, 140166, 139889, 140083, 139753, 140226, 139947, 140187, 139861, 140109,
    140183, 139927, 140079, 139816, 140137, 139987, 139877, 140264, 139931, 140053,
    139917, 140071, 140162, 139873, 140019, 139793, 140287, 139958, 140121, 139851,
    140093, 139807, 139941, 140183, 140054, 139719, 140231, 139983, 139889, 140119,
    139837, 140139, 139989, 139782, 140207, 140033, 139893, 140151, 139961, 140073,
]

# more points, not in phase order, inside the eclipse
PHASE_11 = [
    51437, 50973, 51788, 51126, 51593, 51949, 51281, 51062, 51713, 51357,
    51869, 51213, 51507, 51031, 51651, 51983, 51173, 51419, 51827, 51297,
    51093, 51561, 51741, 51337, 51911, 51009, 51479, 51623, 51249, 51857,
    51391, 51707, 51147, 51963, 51539, 51083, 51811, 51263, 51677, 51451,
    51019, 51609, 51893, 51319, 51233, 51771, 51527, 51119, 51937, 51383,
    51663, 51047, 51461, 51837, 51197, 51573, 51303, 51997, 51733, 51111,
    51411, 51883, 51163, 51639, 51347, 51021, 51791, 51493, 51929, 51271,
    51587, 51101, 51721, 51371, 51957, 51223, 51549, 51859, 51039, 51681,
    51313, 51807, 51139, 51469, 51917, 51617, 51071, 51289, 51749, 51423,
    51977, 51187, 51523, 51697, 51053, 51839, 51359, 51603, 51243, 51901,
    51133, 51659, 51447, 51003, 51767, 51327, 51871, 51577, 51207, 51943,
    51489, 51091, 51819, 51269, 51631, 51403, 51989, 51159, 51727, 51559,
    51037, 51899, 51343, 51689, 51217, 51511, 51783, 51079, 51433, 51969,
    51647, 51253, 51863, 51117, 51389, 51753, 51013, 51597, 51831, 51299,
    51181, 51533, 51923, 51431, 51057, 51709, 51379, 51851, 51143, 51619,
    51953, 51283, 51667, 51067, 51473, 51799, 51239, 51567, 51913, 51329,
]
FLUX_11 = [
    139847, 140063, 139713, 140129, 139927, 139783, 140021, 139658, 139889, 140177,
    139969, 139807, 140087, 139741, 139853, 140033, 139617, 139943, 139759, 140117,
    139876, 140201, 139823, 139687, 139961, 140053, 139733, 139907, 140149, 139811,
    139998, 139653, 139871, 140083, 139769, 139937, 139703, 140187, 139851, 139613,
    140117, 139889, 139739, 139983, 139837, 139587, 140043, 139919, 139791, 140153,
    139731, 139957, 140209, 139867, 139707, 140101, 139829, 139969, 139643, 140027,
    139893, 139749, 140139, 139911, 139683, 140057, 139817, 139753, 139977, 140223,
    139801, 140019, 139663, 139887, 140137, 139947, 139781, 139629, 140083, 139859,
    140061, 139723, 139933, 140171, 139841, 139693, 139987, 140107, 139767, 139889,
    139953, 139843, 140093, 139611, 139903, 140041, 139727, 139863, 140183, 139777,
    139787, 140153, 139871, 140009, 139683, 139931, 139803, 140069, 139747, 139913,
    140127, 139893, 139737, 140027, 139853, 139673, 140091, 139967, 139813, 140191,
    139923, 139797, 140051, 139709, 139987, 139861, 139643, 140113, 139823, 139957,
    139761, 140087, 139879, 139947, 139627, 140029, 139917, 139799, 139713, 140143,
    140003, 139871, 139771, 140159, 139943, 139671, 139893, 140037, 139803, 139687,
    139867, 140121, 139753, 139989, 139837, 140073, 139909, 139727, 139947, 140023,
]

# more points, not in phase order, on the egress
PHASE_12 = [
    52009, 52131, 52047, 52093, 52153, 52027, 52113, 52071, 52143, 52039,
    52101, 52017, 52123, 52063, 52083, 52147, 52053, 52137, 52031, 52107,
]
FLUX_12 = [
    139843, 140247, 140131, 139929, 140031, 140097, 140213, 139881, 140283, 140061,
    140187, 139757, 139983, 140167, 139921, 140229, 140103, 139971, 140041, 140279,
]

# more points, not in phase order, after the eclipse
PHASE_13 = [
    52693, 52219, 53077, 52451, 52891, 52317, 53161, 52587, 52183, 52963,
    52379, 53021, 52547, 52257, 52813, 53137, 52483, 52177, 52729, 53053,
    52609, 52293, 52937, 53191, 52419, 52681, 52233, 53003, 52513, 52857,
    53119, 52353, 52767, 52199, 52901, 52571, 53037, 52433, 52659, 53177,
    52271, 52843, 52503, 53093, 52341, 52747, 52179, 52977, 52621, 53147,
    52469, 52209, 52877, 52653, 53013, 52397, 52789, 53197, 52303, 52559,
    52919, 52187, 52713, 53061, 52443, 52279, 52823, 52593, 53131, 52361,
    52637, 53109, 52247, 52527, 52983, 52411, 52759, 52169, 53033, 52497,
    52331, 52871, 53173, 52601, 52223, 52707, 52457, 53083, 52793, 52263,
    53003, 52539, 52197, 52847, 52373, 53157, 52671, 52287, 52929, 52477,
    52739, 53069, 52313, 52583, 52213, 52961, 52427, 52803, 53123, 52649,
    52237, 52519, 52893, 53183, 52347, 52697, 52173, 52957, 52617, 53041,
    52389, 52779, 53103, 52461, 52251, 52833, 52567, 53011, 52689, 52307,
    52909, 52203, 52631, 53141, 52491, 52751, 52367, 53087, 52543, 52193,
    52661, 53027, 52283, 52811, 52439, 53169, 52577, 52227, 52949, 52717,
]
FLUX_13 = [
    140243, 140071, 140327, 140113, 139937, 140207, 140059, 140389, 140147, 140277,
    140013, 140191, 140283, 139891, 140237, 140107, 140419, 140029, 140167, 139957,
    140311, 140139, 140047, 140223, 139969, 140373, 140181, 140093, 140251, 140017,
    140157, 140337, 139913, 140209, 140087, 140261, 140043, 140451, 140123, 140197,
    139983, 140233, 140113, 140301, 140167, 139927, 140271, 140063, 140387, 140149,
    140203, 140101, 140359, 139973, 140187, 140247, 140057, 140129, 140293, 140019,
    140137, 140273, 140033, 140219, 140341, 140081, 140169, 139903, 140227, 140397,
    140067, 140183, 140251, 140119, 139951, 140313, 140043, 140211, 140157, 140287,
    140229, 140007, 140137, 140263, 140091, 140431, 140177, 140053, 140241, 140119,
    140171, 140349, 139967, 140193, 140101, 140289, 140021, 140237, 140143, 140319,
    140037, 140213, 140279, 139941, 140163, 140097, 140323, 140181, 140057, 140251,
    140117, 140291, 140041, 140203, 140377, 139989, 140153, 140269, 140089, 140213,
    140257, 140027, 140163, 140331, 140107, 140197, 139923, 140241, 140073, 140149,
    140189, 140121, 140299, 140009, 140233, 140413, 140077, 140171, 140261, 139979,
    140093, 140267, 140143, 140219, 139997, 140161, 140353, 140037, 140209, 140111,
]

# eclipse model (red)
RED_PHASE = [0.49276, 0.50841, 0.50852, 0.50960, 0.50980, 0.50994,
             0.52001, 0.52041, 0.52063, 0.52137, 0.52159, 0.53203]
RED_FLUX = [139960, 140047, 140043, 139922, 139906, 139901,
            139956, 139982, 140025, 140113, 140121, 140179]

# eclipse + perturbation model (green)
GREEN_PHASE = [0.49276, 0.49597, 0.49597, 0.50246, 0.50246, 0.50839,
               0.50895, 0.50901, 0.50997, 0.51547, 0.51547, 0.52001,
               0.52041, 0.52084, 0.52137, 0.52159, 0.52196, 0.52196,
               0.52850, 0.52850, 0.53203]
GREEN_FLUX = [139929, 139946, 140009, 140046, 139982, 140016,
              139969, 140032, 139932, 139961, 139901, 139924,
              139945, 140025, 140078, 140089, 140090, 140155,
              140192, 140127, 140148]

XTICKS = [0.495, 0.500, 0.505, 0.510, 0.515, 0.520, 0.525, 0.530]
YTICKS = [139600, 139800, 140000, 140200, 140400, 140600]

# ---------------------------------------------------------------------------
# Plot
# ---------------------------------------------------------------------------

plt.style.use("classic")
DPI = 158
fig = plt.figure(figsize=(1105.4 / DPI, 796.4 / DPI), dpi=DPI, facecolor="white")

# thin grey frame on the left and top edge of the picture
fig.patches.append(Rectangle((0, 0), 6 / 1105, 1, transform=fig.transFigure,
                             facecolor="#eeeeee", edgecolor="none"))
fig.patches.append(Rectangle((0, 1 - 5 / 796), 1, 5 / 796, transform=fig.transFigure,
                             facecolor="#eeeeee", edgecolor="none"))

ax = fig.add_axes([0.1469, 0.1005, 0.8389, 0.8609])

phase = np.concatenate([PHASE_1, PHASE_2, PHASE_3, PHASE_4, PHASE_5, PHASE_6, PHASE_7,
                        PHASE_8, PHASE_9, PHASE_10, PHASE_11, PHASE_12, PHASE_13]) / 1e5
flux = np.concatenate([FLUX_1, FLUX_2, FLUX_3, FLUX_4, FLUX_5, FLUX_6, FLUX_7,
                       FLUX_8, FLUX_9, FLUX_10, FLUX_11, FLUX_12, FLUX_13])

ax.plot(phase, flux, "b.", ms=3.5, mew=0, label="synthetic")
ax.plot(RED_PHASE, RED_FLUX, "r-", lw=2, label="eclipse")
ax.plot(GREEN_PHASE, GREEN_FLUX, "g-", lw=2, label="eclipse + perturb")

ax.set_xlim(0.4920, 0.5330)
ax.set_ylim(139550, 140650)
ax.set_xticks(XTICKS)
ax.set_yticks(YTICKS)
ax.set_xticklabels([f"{v:.3f}" for v in XTICKS])
ax.set_yticklabels([str(v) for v in YTICKS])
ax.tick_params(axis="y", pad=3)

ax.set_xlabel("Orbital Phase", labelpad=3)
ax.set_ylabel("Flux", labelpad=3)

ax.legend(loc="upper left", bbox_to_anchor=(0.0176, 0.9777), borderaxespad=0,
          numpoints=2, handlelength=1.55, handletextpad=1.22, borderpad=0.42,
          labelspacing=0.48, fancybox=False)

fig.savefig("out.png", dpi=DPI, facecolor="white")
